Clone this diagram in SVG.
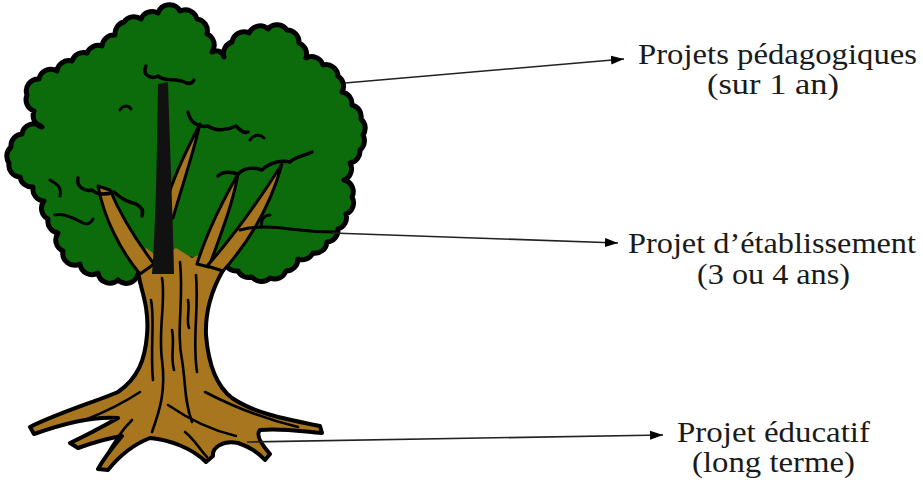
<svg xmlns="http://www.w3.org/2000/svg" width="923" height="487" viewBox="0 0 923 487">
<style>
.lbl{font-family:"Liberation Serif","Times New Roman",serif;font-size:29px;fill:#1a1a1a}
.conn{stroke:#222;stroke-width:1.6;fill:none}
.ink{stroke:#000;fill:none;stroke-linecap:round;stroke-linejoin:round}
.bark{stroke:#000;stroke-width:2.6;fill:none;stroke-linecap:round}
.brown{fill:#a8761e;stroke:#000;stroke-width:3;stroke-linejoin:round}
</style>
<defs>
<marker id="arrow" markerUnits="userSpaceOnUse" markerWidth="13" markerHeight="10" refX="13" refY="5" orient="auto">
<path d="M0,0.5 L13,5 L0,9.5 Z" fill="#000"/>
</marker>
</defs>
<rect width="923" height="487" fill="#fff"/>
<g id="tree">
<path id="canopy" fill="#0c6c0c" stroke="#000" stroke-width="5" stroke-linejoin="round" d="M138,274 A12,12 0 0 1 118,280 A12,12 0 0 1 98,273 A12,12 0 0 1 80,264 A12,12 0 0 1 63,251 A12,12 0 0 1 58,233 A12,12 0 0 1 48,219 A12,12 0 0 1 44,201 A12,12 0 0 1 33,187 A12,12 0 0 1 20,177 A12,12 0 0 1 9,163 A12,12 0 0 1 11,147 A12,12 0 0 1 22,134 A12,12 0 0 1 42,127 A12,12 0 0 1 34,111 A12,12 0 0 1 27,95 A12,12 0 0 1 39,79 A12,12 0 0 1 57,71 A12,12 0 0 1 72,61 A12,12 0 0 1 87,53 A12,12 0 0 1 102,46 A12,12 0 0 1 115,35 A12,12 0 0 1 124,22 A12,12 0 0 1 141,19 A12,12 0 0 1 158,13 A12,12 0 0 1 180,11 A12,12 0 0 1 197,19 A12,12 0 0 1 207,34 A12,12 0 0 1 212,52 A8,8 0 0 1 224,57 A12,12 0 0 1 232,42 A12,12 0 0 1 249,33 A12,12 0 0 1 268,29 A12,12 0 0 1 287,30 A12,12 0 0 1 299,43 A12,12 0 0 1 306,58 A12,12 0 0 1 323,65 A12,12 0 0 1 338,76 A12,12 0 0 1 342,92 A12,12 0 0 1 352,105 A12,12 0 0 1 361,119 A12,12 0 0 1 363,135 A12,12 0 0 1 360,150 A12,12 0 0 1 350,163 A12,12 0 0 1 344,180 A12,12 0 0 1 352,197 A12,12 0 0 1 346,214 A12,12 0 0 1 338,229 A12,12 0 0 1 327,242 A12,12 0 0 1 313,253 A12,12 0 0 1 298,259 A12,12 0 0 1 286,271 A12,12 0 0 1 270,278 A12,12 0 0 1 252,277 A12,12 0 0 1 238,271 A12,12 0 0 1 225,263 L180,258 Z"/>
<path id="trunk-fill" fill="#a8761e" d="M138,258 C134,280 150,300 147,335 C145,360 138,378 118,392 C95,402 60,412 30,427 L34,434 C62,424 92,416 118,418 C100,428 85,436 70,443 L78,448 C95,442 108,438 122,436 C112,448 104,458 98,469 L108,470 C120,455 132,445 150,438 C170,440 192,448 206,462 L213,456 C212,448 222,440 238,443 C250,447 258,452 265,460 L270,454 C262,445 255,435 260,430 C285,428 305,432 322,433 L320,426 C290,420 255,414 232,398 C215,385 208,360 206,335 C205,310 212,290 222,272 C226,265 230,258 234,252 L220,262 L205,252 L192,258 L176,248 L160,258 L146,248 Z"/>
<path id="trunk-outline" class="ink" stroke-width="4" d="M138,264 C136,282 150,300 147,335 C145,360 138,378 118,392 C95,402 60,412 30,427 L34,434 C62,424 92,416 118,418 C100,428 85,436 70,443 L78,448 C95,442 108,438 122,436 C112,448 104,458 98,469 L108,470 C120,455 132,445 150,438 C170,440 192,448 206,462 L213,456 C212,448 222,440 238,443 C250,447 258,452 265,460 L270,454 C262,445 255,435 260,430 C285,428 305,432 322,433 L320,426 C290,420 255,414 232,398 C215,385 208,360 206,335 C205,310 212,290 222,272 C225,267 227,265 229,263"/>
<path id="branch-left" class="brown" d="M98,186 C104,218 120,250 140,274 L154,264 C136,240 120,214 110,190 Z"/>
<path id="branch-b2" class="brown" d="M164,210 C172,180 184,155 200,124 C192,158 182,186 173,218 Z"/>
<path id="branch-center" fill="#111" d="M152,274 C156,220 157,150 158,84 L168,82 C170,150 173,220 174,274 Z"/>
<path id="branch-r1" class="brown" d="M197,264 C206,235 222,202 238,174 C232,208 219,238 209,267 Z"/>
<path id="branch-r2" class="brown" d="M207,266 C232,238 258,202 282,164 C270,208 246,245 223,271 Z"/>
<path class="ink" stroke-width="3.5" d="M146,66 c-4,8 4,14 12,10 c6,6 18,2 26,6 c4,2 8,2 10,-2"/>
<path class="ink" stroke-width="3.5" d="M188,112 c2,10 10,16 20,14 c8,6 20,4 28,0 c4,4 8,8 12,6"/>
<path class="ink" stroke-width="3.5" d="M218,176 c6,-6 14,-4 20,-2 c8,-8 18,-6 24,-4 c8,-8 20,-10 28,-8 c6,-6 14,-6 22,-10"/>
<path class="ink" stroke-width="3.5" d="M78,178 c-2,8 6,14 14,12 c6,6 16,4 22,2 c6,6 14,10 22,12 c4,2 8,6 6,12"/>
<path class="ink" stroke-width="3" d="M50,180 c6,4 12,6 10,16 M55,215 c10,-2 20,4 28,8 c4,2 8,0 10,-4"/>
<path class="ink" stroke-width="3" d="M240,230 C255,226 270,226 290,229 C305,231 320,232 336,232 M262,227 c-2,-8 3,-12 8,-12"/>
<path class="ink" stroke-width="3" d="M250,140 c4,-6 10,-6 14,-2 M120,110 c3,-5 8,-5 11,-1"/>
<path class="bark" d="M162,278 C166,300 158,330 162,360 C166,390 160,410 152,432"/>
<path class="bark" d="M180,262 C184,300 176,330 182,360 C186,385 184,400 192,422"/>
<path class="bark" d="M196,275 C199,310 192,340 197,372"/>
<path class="bark" d="M151,300 C155,320 150,350 153,380"/>
<path class="bark" d="M140,392 C125,402 110,410 85,420"/>
<path class="bark" d="M168,405 C190,420 210,430 236,436"/>
<path class="bark" d="M205,392 C230,405 260,418 298,427"/>
<path class="bark" d="M132,420 C122,430 112,445 104,460"/>
<path class="bark" d="M185,432 C195,440 200,450 207,457"/>
<path class="bark" d="M172,330 c3,15 -2,25 2,40 M188,300 c2,10 -2,20 1,28"/>
</g>
<g id="connectors">
<line class="conn" x1="345" y1="83" x2="624" y2="59" marker-end="url(#arrow)"/>
<line class="conn" x1="332" y1="233" x2="618" y2="243" marker-end="url(#arrow)"/>
<line class="conn" x1="247" y1="442" x2="663" y2="435" marker-end="url(#arrow)"/>
</g>
<g id="label-pedagogiques">
<text class="lbl" x="638" y="64" textLength="279" lengthAdjust="spacingAndGlyphs">Projets pédagogiques</text>
<text class="lbl" x="707" y="94" textLength="132" lengthAdjust="spacingAndGlyphs">(sur 1 an)</text>
</g>
<g id="label-etablissement">
<text class="lbl" x="628" y="253" textLength="288" lengthAdjust="spacingAndGlyphs">Projet d’établissement</text>
<text class="lbl" x="697" y="284" textLength="153" lengthAdjust="spacingAndGlyphs">(3 ou 4 ans)</text>
</g>
<g id="label-educatif">
<text class="lbl" x="677" y="442" textLength="193" lengthAdjust="spacingAndGlyphs">Projet éducatif</text>
<text class="lbl" x="692" y="472" textLength="163" lengthAdjust="spacingAndGlyphs">(long terme)</text>
</g>
</svg>
